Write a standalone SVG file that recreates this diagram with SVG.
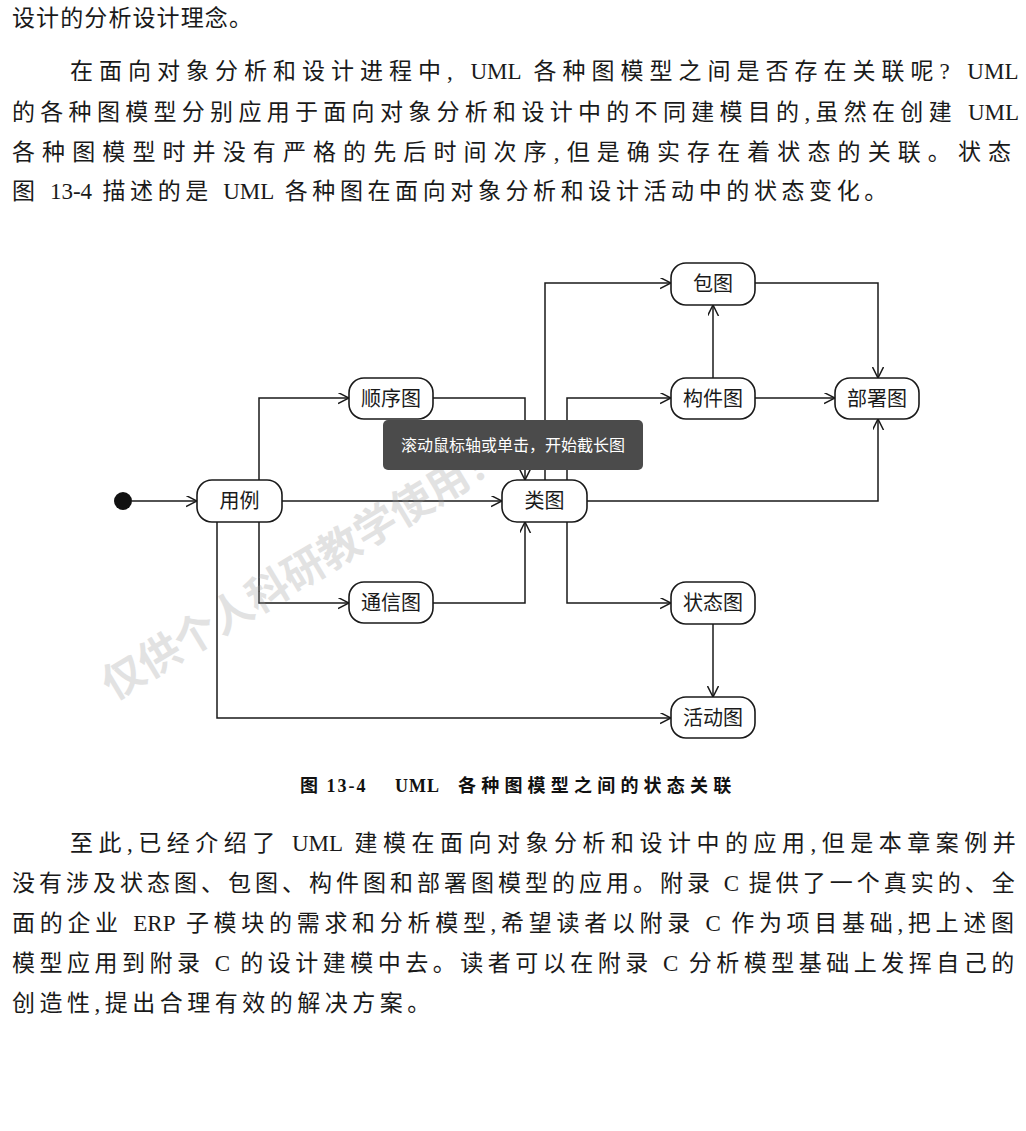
<svg xmlns="http://www.w3.org/2000/svg" width="1026" height="1131" viewBox="0 0 1026 1131">
<style>
.body{font-family:"Liberation Serif","Noto Sans CJK SC",serif;font-size:23px;fill:#1a1a1a}
.cap{font-family:"Liberation Serif","Noto Sans CJK SC",serif;font-size:18px;font-weight:bold;fill:#111}
.node rect{fill:#fff;stroke:#1a1a1a;stroke-width:1.6}
.node text{font-family:"Liberation Serif","Noto Sans CJK SC",serif;font-size:20px;fill:#1a1a1a;text-anchor:middle}
.conn path{fill:none;stroke:#1a1a1a;stroke-width:1.5;marker-end:url(#arr)}
.wm{font-family:"Noto Sans CJK SC",sans-serif;font-size:42px;font-weight:bold;fill:#9a9a9a;opacity:0.28}
.lat{letter-spacing:0}
</style>
<defs>
<marker id="arr" markerWidth="12" markerHeight="12" refX="11" refY="5.5" orient="auto" markerUnits="userSpaceOnUse">
<path d="M0,0 L11,5.5 L0,11" fill="none" stroke="#1a1a1a" stroke-width="1.5"/>
</marker>
</defs>
<rect width="1026" height="1131" fill="#fff"/>

<g id="para1">
<text class="body" x="12" y="26" letter-spacing="1.1">设计的分析设计理念。</text>
<text class="body" x="70" y="79"><tspan letter-spacing="6">在面向对象分析和设计进程中, </tspan><tspan class="lat">UML</tspan><tspan letter-spacing="6"> 各种图模型之间是否存在关联呢? </tspan><tspan class="lat">UML</tspan></text>
<text class="body" x="12" y="120"><tspan letter-spacing="5.3">的各种图模型分别应用于面向对象分析和设计中的不同建模目的,虽然在创建 </tspan><tspan class="lat">UML</tspan></text>
<text class="body" x="12" y="160" letter-spacing="7.1">各种图模型时并没有严格的先后时间次序,但是确实存在着状态的关联。状态</text>
<text class="body" x="12" y="199"><tspan letter-spacing="4.6">图 </tspan><tspan class="lat">13-4</tspan><tspan letter-spacing="4.6"> 描述的是 </tspan><tspan class="lat">UML</tspan><tspan letter-spacing="4.6"> 各种图在面向对象分析和设计活动中的状态变化。</tspan></text>
</g>

<g id="connectors" class="conn">
<path d="M132,501 H197"/>
<path d="M282,501 H502"/>
<path d="M259,480 V398 H349"/>
<path d="M433,398 H525 V480"/>
<path d="M259,522 V603 H349"/>
<path d="M433,603 H525 V522"/>
<path d="M217,522 V718 H671"/>
<path d="M545,480 V283 H671"/>
<path d="M567,480 V398 H671"/>
<path d="M713,378 V305"/>
<path d="M755,398 H835"/>
<path d="M755,283 H878 V378"/>
<path d="M587,501 H878 V419"/>
<path d="M567,522 V603 H671"/>
<path d="M713,624 V697"/>
</g>

<g id="start"><circle cx="123" cy="501" r="9" fill="#111"/></g>
<g id="usecase" class="node"><rect x="197" y="480" width="85" height="42" rx="15"/><text x="239.5" y="508">用例</text></g>
<g id="sequence" class="node"><rect x="349" y="378" width="84" height="41" rx="15"/><text x="391" y="405.5">顺序图</text></g>
<g id="class" class="node"><rect x="502" y="480" width="85" height="42" rx="15"/><text x="544.5" y="508">类图</text></g>
<g id="package" class="node"><rect x="671" y="263" width="84" height="42" rx="15"/><text x="713" y="291">包图</text></g>
<g id="component" class="node"><rect x="671" y="378" width="84" height="41" rx="15"/><text x="713" y="405.5">构件图</text></g>
<g id="deployment" class="node"><rect x="835" y="378" width="84" height="41" rx="15"/><text x="877" y="405.5">部署图</text></g>
<g id="communication" class="node"><rect x="349" y="582" width="84" height="41" rx="15"/><text x="391" y="609.5">通信图</text></g>
<g id="state" class="node"><rect x="671" y="582" width="84" height="42" rx="15"/><text x="713" y="610">状态图</text></g>
<g id="activity" class="node"><rect x="671" y="697" width="84" height="41" rx="15"/><text x="713" y="724.5">活动图</text></g>

<g id="watermark">
<text class="wm" x="304" y="584" text-anchor="middle" transform="rotate(-31 304 570)">仅供个人科研教学使用！</text>
</g>

<g id="overlay">
<rect x="383" y="420" width="260" height="50" rx="5" fill="#4b4b4b"/>
<text x="513" y="451" text-anchor="middle" font-family="Noto Sans CJK SC, sans-serif" font-size="16" fill="#fff">滚动鼠标轴或单击，开始截长图</text>
</g>

<g id="caption">
<text class="cap" x="300" y="792" letter-spacing="2">图 13-4</text>
<text class="cap" x="395" y="792"><tspan letter-spacing="1">UML</tspan><tspan x="458" letter-spacing="5.2">各种图模型之间的状态关联</tspan></text>
</g>

<g id="para2">
<text class="body" x="70" y="851"><tspan letter-spacing="5.5">至此,已经介绍了 </tspan><tspan class="lat">UML</tspan><tspan letter-spacing="5.5"> 建模在面向对象分析和设计中的应用,但是本章案例并</tspan></text>
<text class="body" x="12" y="891"><tspan letter-spacing="4">没有涉及状态图、包图、构件图和部署图模型的应用。附录 </tspan><tspan class="lat">C</tspan><tspan letter-spacing="4"> 提供了一个真实的、全</tspan></text>
<text class="body" x="12" y="931"><tspan letter-spacing="4.7">面的企业 </tspan><tspan class="lat">ERP</tspan><tspan letter-spacing="4.7"> 子模块的需求和分析模型,希望读者以附录 </tspan><tspan class="lat">C</tspan><tspan letter-spacing="4.7"> 作为项目基础,把上述图</tspan></text>
<text class="body" x="12" y="971"><tspan letter-spacing="4.5">模型应用到附录 </tspan><tspan class="lat">C</tspan><tspan letter-spacing="4.5"> 的设计建模中去。读者可以在附录 </tspan><tspan class="lat">C</tspan><tspan letter-spacing="4.5"> 分析模型基础上发挥自己的</tspan></text>
<text class="body" x="12" y="1011" letter-spacing="4.5">创造性,提出合理有效的解决方案。</text>
</g>
</svg>
